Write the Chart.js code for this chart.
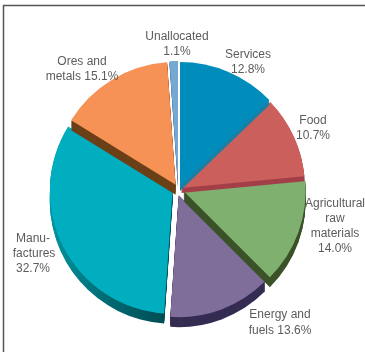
<!DOCTYPE html>
<html>
<head>
<meta charset="utf-8">
<style>
  html, body { margin: 0; padding: 0; background: #fff; }
  #wrap { position: relative; width: 365px; height: 352px; }
</style>
<script src="https://cdn.jsdelivr.net/npm/chart.js@4"></script>
</head>
<body>
<div id="wrap"><canvas id="pie" width="365" height="352"></canvas></div>
<script>
// Data
const categories = ["Services", "Food", "Agricultural raw materials", "Energy and fuels", "Manufactures", "Ores and metals", "Unallocated"];
const shares = [12.8, 10.7, 14.0, 13.6, 32.7, 15.1, 1.1];

// Styles
const topColors = ["#008DBB", "#CB5F5C", "#7FB070", "#7F6E9A", "#00AEBF", "#F79256", "#75A9D2"];
const sideColors = ["#1B7FA5", "#A23F48", "#3B5229", "#352C52", "#00565F", "#6B4018", "#3A5A7A"];
// how far each slice is pulled away from the pie centre
const shiftX = [2, 3, 5.5, 0.7, -5.4, -2.4, 0];
const shiftY = [-2, 0, 3, 7, 3, -3.3, -3];
const sizeScale = [1, 1, 0.985, 0.985, 0.99, 0.99, 1];
const sideDepth = [5, 5, 10, 10, 10, 10, 2];
const paintOrder = [3, 2, 1, 0, 4, 5, 6];

// Hand placed text: [centre x, baseline y, text]
const textLines = [
  [177, 40, "Unallocated"], [177, 55, "1.1%"],
  [248, 58, "Services"], [248, 73, "12.8%"],
  [313, 124, "Food"], [313, 139, "10.7%"],
  [335, 207, "Agricultural"], [335, 222, "raw"], [335, 237, "materials"], [335, 252, "14.0%"],
  [280, 318, "Energy and"], [280, 334, "fuels 13.6%"],
  [33, 242, "Manu-"], [34, 257, "factures"], [33, 272, "32.7%"],
  [82, 65, "Ores and"], [82, 80, "metals 15.1%"]
];

const framePlugin = {
  id: "frame",
  beforeDraw(chart) {
    const ctx = chart.ctx;
    ctx.save();
    ctx.strokeStyle = "#555555";
    ctx.lineWidth = 1.5;
    ctx.beginPath();
    ctx.moveTo(3.5, 352);
    ctx.lineTo(3.5, 5.5);
    ctx.lineTo(365, 5.5);
    ctx.stroke();
    ctx.restore();
  }
};

const piePlugin = {
  id: "extrudedPie",
  beforeDatasetDraw(chart, args) {
    const ctx = chart.ctx;
    const arcs = chart.getDatasetMeta(args.index).data;
    paintOrder.forEach(i => {
      const a = arcs[i];
      const r = a.outerRadius * sizeScale[i];
      const x = a.x + shiftX[i];
      const y = a.y + shiftY[i];
      ctx.save();
      ctx.fillStyle = sideColors[i];
      if (i === 4) {
        const g = ctx.createLinearGradient(50, 0, 165, 0);
        g.addColorStop(0, "#00959F");
        g.addColorStop(0.5, "#006A72");
        g.addColorStop(1, "#004C54");
        ctx.fillStyle = g;
      }
      for (let d = sideDepth[i]; d > 0; d--) {
        ctx.beginPath();
        ctx.moveTo(x, y + d);
        ctx.arc(x, y + d, r, a.startAngle, a.endAngle);
        ctx.closePath();
        ctx.fill();
      }
      // top face, moved out from the centre and scaled about its own apex
      ctx.translate(x, y);
      ctx.scale(sizeScale[i], sizeScale[i]);
      ctx.translate(-a.x, -a.y);
      a.draw(ctx);
      ctx.restore();
    });
    return false;
  },
  afterDraw(chart) {
    const ctx = chart.ctx;
    ctx.save();
    ctx.font = "12px 'Liberation Sans'";
    ctx.fillStyle = "#5c5c5c";
    ctx.textAlign = "center";
    textLines.forEach(t => ctx.fillText(t[2], t[0], t[1]));
    ctx.restore();
  }
};

new Chart(document.getElementById("pie"), {
  type: "pie",
  data: {
    labels: categories,
    datasets: [{
      data: shares,
      backgroundColor: topColors,
      borderWidth: 0
    }]
  },
  options: {
    responsive: false,
    animation: false,
    radius: 124,
    rotation: 0,
    layout: { padding: { left: 0, right: 9, top: 24, bottom: 0 } },
    plugins: { legend: { display: false }, tooltip: { enabled: false } }
  },
  plugins: [framePlugin, piePlugin]
});
</script>
</body>
</html>
